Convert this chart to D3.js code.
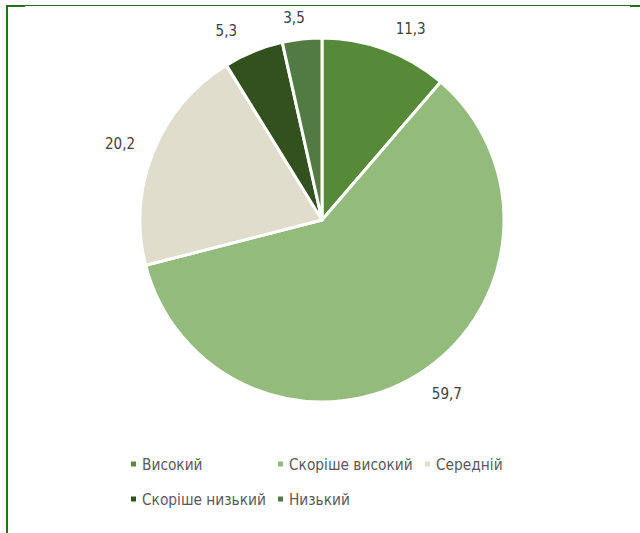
<!DOCTYPE html>
<html>
<head>
<meta charset="utf-8">
<script src="https://cdn.jsdelivr.net/npm/d3@7"></script>
<style>
  html, body { margin: 0; padding: 0; background: #ffffff; }
  svg { display: block; }
  text { font-family: "DejaVu Sans Condensed", "DejaVu Sans", Tahoma, sans-serif; font-stretch: condensed; }
</style>
</head>
<body>
<svg id="chart" width="640" height="533"></svg>
<script>
// Survey shares, %
const categories = ["Високий", "Скоріше високий", "Середній", "Скоріше низький", "Низький"];
const values = [11.3, 59.7, 20.2, 5.3, 3.5];
const valueLabels = ["11,3", "59,7", "20,2", "5,3", "3,5"];
const colors = ["#578a38", "#93bb7b", "#e0ddcc", "#33501f", "#527a43"];

const W = 640, H = 533;
const cx = 322, cy = 220, radius = 182;

const svg = d3.select("#chart");

// Frame lines along the left and top edges
const frame = svg.append("g").attr("fill", "#1b7612");
frame.append("rect").attr("x", 6).attr("y", 5).attr("width", 2).attr("height", H - 5);
frame.append("rect").attr("x", 6).attr("y", 5).attr("width", W - 6).attr("height", 1);
frame.append("rect").attr("x", 6).attr("y", 5).attr("width", 19).attr("height", 2);
frame.append("rect").attr("x", 630).attr("y", 5).attr("width", 10).attr("height", 2);

const data = categories.map((c, i) => ({ name: c, value: values[i], label: valueLabels[i], color: colors[i] }));

const pie = d3.pie().value(d => d.value).sort(null);
const arcs = pie(data);
const arc = d3.arc().innerRadius(0).outerRadius(radius);

const g = svg.append("g").attr("transform", `translate(${cx},${cy})`);

g.selectAll("path.slice")
  .data(arcs)
  .join("path")
  .attr("class", "slice")
  .attr("d", arc)
  .attr("fill", d => d.data.color)
  .attr("stroke", "#ffffff")
  .attr("stroke-width", 3)
  .attr("stroke-linejoin", "round");

// Value labels just outside each slice; the label box is pushed sideways
// by about half its width so it clears the rim
const labelRx = 193, labelRy = 204, sidePush = 23;
const mid = d => (d.startAngle + d.endAngle) / 2;
g.selectAll("text.value")
  .data(arcs)
  .join("text")
  .attr("class", "value")
  .attr("x", d => {
    const s = Math.sin(mid(d));
    return labelRx * s + Math.sign(s) * sidePush * Math.min(1, 2.7 * Math.abs(s));
  })
  .attr("y", d => -labelRy * Math.cos(mid(d)))
  .attr("text-anchor", "middle")
  .attr("dy", "0.36em")
  .attr("font-size", "15px")
  .attr("fill", "#404040")
  .text(d => d.data.label);

// Legend: two rows, three columns
const legendX0 = 131, colStep = 147, rowY = [464, 499];
const legend = svg.append("g").attr("class", "legend");
const items = legend.selectAll("g.item")
  .data(data)
  .join("g")
  .attr("class", "item")
  .attr("transform", (d, i) => `translate(${legendX0 + (i % 3) * colStep},${rowY[Math.floor(i / 3)]})`);

items.append("rect")
  .attr("x", 0).attr("y", -2.5)
  .attr("width", 5).attr("height", 5)
  .attr("fill", d => d.color);

items.append("text")
  .attr("x", 11)
  .attr("dy", "0.36em")
  .attr("font-size", "15.3px")
  .attr("fill", "#595959")
  .text(d => d.name);
</script>
</body>
</html>
